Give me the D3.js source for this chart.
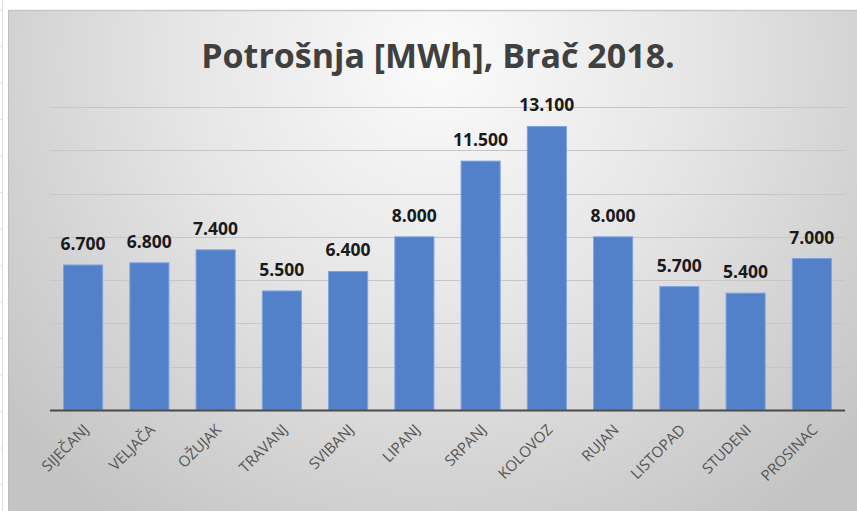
<!DOCTYPE html>
<html>
<head>
<meta charset="utf-8">
<script src="https://cdn.jsdelivr.net/npm/d3@7"></script>
<style>
  body { margin: 0; background: #fff; }
  svg { display: block; font-family: "Open Sans", sans-serif; }
</style>
</head>
<body>
<div id="chart"></div>
<script>
// data
const months = ["SIJEČANJ", "VELJAČA", "OŽUJAK", "TRAVANJ", "SVIBANJ", "LIPANJ",
                "SRPANJ", "KOLOVOZ", "RUJAN", "LISTOPAD", "STUDENI", "PROSINAC"];
const consumption = [6700, 6800, 7400, 5500, 6400, 8000, 11500, 13100, 8000, 5700, 5400, 7000];
const yTicks = [0, 2000, 4000, 6000, 8000, 10000, 12000, 14000];
const title = "Potrošnja [MWh], Brač 2018.";

const W = 857, H = 511;
const frame = {x: 8, y: 10};
const margin = {top: 107, right: 12, bottom: 101, left: 50};

const svg = d3.select("#chart").append("svg")
    .attr("width", W).attr("height", H);

// spreadsheet strip on the left
svg.append("line").attr("x1", 2.5).attr("x2", 2.5).attr("y1", 0).attr("y2", H)
    .attr("stroke", "#dcdcdc");
svg.append("g").selectAll("line")
    .data(d3.range(14))
    .join("line")
    .attr("x1", 0).attr("x2", 3)
    .attr("y1", d => 10 + d * 36.5).attr("y2", d => 10 + d * 36.5)
    .attr("stroke", "#e2e2e2");

// background gradient
const defs = svg.append("defs");
const grad = defs.append("radialGradient")
    .attr("id", "bg")
    .attr("gradientUnits", "userSpaceOnUse")
    .attr("cx", 440).attr("cy", 60).attr("r", 560);
grad.append("stop").attr("offset", "0%").attr("stop-color", "#fbfbfb");
grad.append("stop").attr("offset", "45%").attr("stop-color", "#e6e6e6");
grad.append("stop").attr("offset", "100%").attr("stop-color", "#c4c4c4");

svg.append("rect")
    .attr("x", frame.x).attr("y", frame.y)
    .attr("width", W - frame.x).attr("height", H - frame.y)
    .attr("fill", "url(#bg)");
svg.append("line")
    .attr("x1", frame.x).attr("x2", W).attr("y1", frame.y + 0.5).attr("y2", frame.y + 0.5)
    .attr("stroke", "#c8c8c8").attr("stroke-width", 1.5);
svg.append("line")
    .attr("x1", frame.x + 0.5).attr("x2", frame.x + 0.5).attr("y1", frame.y).attr("y2", H)
    .attr("stroke", "#bdbdbd");

const innerW = W - margin.left - margin.right;
const innerH = 410 - margin.top;

const g = svg.append("g")
    .attr("transform", "translate(" + margin.left + "," + margin.top + ")");

const x = d3.scaleBand()
    .domain(months)
    .range([0, innerW])
    .paddingInner(0.41)
    .paddingOuter(0.205);

const y = d3.scaleLinear()
    .domain([0, 14000])
    .range([innerH, 0]);

const locale = d3.formatLocale({decimal: ",", thousands: ".", grouping: [3], currency: ["", ""]});
const fmt = locale.format(",d");

// gridlines
g.append("g").selectAll("line")
    .data(yTicks.filter(d => d > 0))
    .join("line")
    .attr("x1", 0).attr("x2", innerW)
    .attr("y1", d => Math.round(y(d)) + 0.5).attr("y2", d => Math.round(y(d)) + 0.5)
    .attr("stroke", "#c6c6c6").attr("stroke-width", 1);

// bars
g.append("g").selectAll("rect")
    .data(consumption)
    .join("rect")
    .attr("x", (d, i) => x(months[i]))
    .attr("y", d => y(d))
    .attr("width", x.bandwidth())
    .attr("height", d => innerH - y(d))
    .attr("fill", "#5280c9")
    .attr("stroke", "#7ea3de")
    .attr("stroke-width", 1);

// baseline
g.append("line")
    .attr("x1", 0).attr("x2", innerW)
    .attr("y1", innerH + 0.5).attr("y2", innerH + 0.5)
    .attr("stroke", "#4a4a4a").attr("stroke-width", 2);

// value labels
g.append("g").selectAll("text")
    .data(consumption)
    .join("text")
    .attr("x", (d, i) => x(months[i]) + x.bandwidth() / 2)
    .attr("y", d => y(d) - 15)
    .attr("text-anchor", "middle")
    .attr("font-size", 17.5)
    .attr("font-weight", "bold")
    .attr("fill", "#1a1a1a")
    .text(d => fmt(d));

// category labels
g.append("g").selectAll("text")
    .data(months)
    .join("text")
    .attr("transform", d => "translate(" + (x(d) + x.bandwidth() / 2 + 3) + "," + (innerH + 17) + ") rotate(-45)")
    .attr("text-anchor", "end")
    .attr("dy", "0.35em")
    .attr("font-size", 15)
    .attr("fill", "#555")
    .text(d => d);

// title
svg.append("text")
    .attr("x", 438).attr("y", 68)
    .attr("text-anchor", "middle")
    .attr("font-size", 34)
    .attr("font-weight", "bold")
    .attr("fill", "#404040")
    .text(title);
</script>
</body>
</html>
